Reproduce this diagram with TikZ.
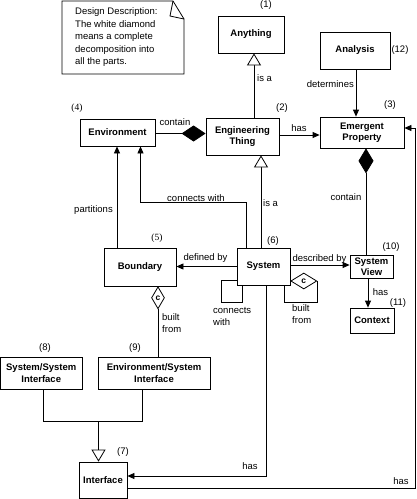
\documentclass[tikz,border=0pt]{standalone}
\usepackage{fontspec}
\setmainfont{Liberation Sans}
\newfontfamily\serifnum{Liberation Serif}
\usetikzlibrary{arrows.meta,shapes.geometric}
\begin{document}
\begin{tikzpicture}[x=1pt,y=-1pt,
  ln/.style={line width=0.8pt},
  box/.style={draw, ln, inner sep=0pt, align=center, font=\fontsize{9.5}{11.5}\selectfont\bfseries},
  lbl/.style={inner sep=0pt, font=\fontsize{9.5}{12}\selectfont},
  arr/.style={ln, -{Triangle[length=7pt,width=6pt]}},
  gen/.style={ln, -{Triangle[open,length=12pt,width=14pt,fill=white]}},
  cdia/.style={draw, ln, diamond, inner sep=0pt, fill=white, font=\fontsize{8.5}{9}\selectfont\bfseries},
]
\useasboundingbox (0,0) rectangle (417,499);

% note
\draw[ln] (62,1) -- (173,1) -- (184,19) -- (184,74) -- (62,74) -- cycle;
\draw[ln] (173,1) -- (170,16) -- (184,19);
\node[lbl, anchor=north west, align=left, font=\fontsize{9.5}{12.5}\selectfont] (note) at (75,7.5)
  {Design Description:\\The white diamond\\means a complete\\decomposition into\\all the parts.};

% nodes
\node[box, minimum width=66pt, minimum height=37pt] (any) at (251,34.5) {Anything};
\node[box, minimum width=70pt, minimum height=37pt] (ana) at (355,50.5) {Analysis};
\node[box, minimum width=73pt, minimum height=37pt] (et) at (242.5,136.5) {Engineering\\Thing};
\node[box, minimum width=84pt, minimum height=31pt] (ep) at (362,132.5) {Emergent\\Property};
\node[box, minimum width=75pt, minimum height=27pt] (env) at (117.5,132.5) {Environment};
\node[box, minimum width=72pt, minimum height=38pt] (bnd) at (140,267) {Boundary};
\node[box, minimum width=53pt, minimum height=37pt] (sys) at (263.5,266.5) {System};
\node[box, minimum width=43pt, minimum height=23pt] (sv) at (371.5,266.5) {System\\View};
\node[box, minimum width=44pt, minimum height=25pt] (ctx) at (372,320.5) {Context};
\node[box, minimum width=81.5pt, minimum height=32pt] (ssi) at (41.25,373) {System/System\\Interface};
\node[box, minimum width=112pt, minimum height=32pt] (esi) at (154,373) {Environment/System\\Interface};
\node[box, minimum width=48pt, minimum height=36pt] (itf) at (103,480) {Interface};

% numbers
\node[lbl] (n1) at (266,5.5) {(1)};
\node[lbl] (n2) at (282,108) {(2)};
\node[lbl] (n3) at (390,105) {(3)};
\node[lbl, font=\fontsize{9.5}{12}\selectfont\serifnum] (n4) at (77,108) {(4)};
\node[lbl, font=\fontsize{9.5}{12}\selectfont\serifnum] (n5) at (157,238) {(5)};
\node[lbl] (n6) at (273,241) {(6)};
\node[lbl] (n7) at (123,452) {(7)};
\node[lbl] (n8) at (45,348) {(8)};
\node[lbl] (n9) at (135,348) {(9)};
\node[lbl] (n10) at (391,247) {(10)};
\node[lbl] (n11) at (398,303) {(11)};
\node[lbl] (n12) at (400,50) {(12)};

% diamonds with c
\node[cdia, minimum width=13pt, minimum height=22pt, anchor=north] (bd) at ([xshift=18pt]bnd.south) {c};
\node[cdia, minimum width=26pt, minimum height=16pt, anchor=west] (sd) at ([yshift=-14.5pt]sys.east) {c};

% connectors
\draw[gen] ([xshift=11.5pt]et.north) coordinate (p1) -- (p1 |- any.south);
\draw[arr] ([xshift=1pt]ana.south) coordinate (p2) -- (p2 |- ep.north);
\draw[arr] ([yshift=1.5pt]et.east) coordinate (p3) -- (p3 -| ep.west);
\draw[ln, -{Diamond[length=24pt,width=16pt]}] ([yshift=-1pt]env.east) coordinate (p4) -- (p4 -| et.west);
\draw[ln, {Diamond[length=25pt,width=15pt]}-] ([xshift=4pt]ep.south) coordinate (p5) -- (p5 |- sv.north);
\draw[gen] ([xshift=-2.5pt]sys.north) coordinate (p6) -- (p6 |- et.south);
\draw[arr] ([xshift=-17.5pt]sys.north) -- ++(0,-45) -| ([xshift=23pt]env.south);
\draw[arr] ([xshift=-23pt]bnd.north) coordinate (p8) -- (p8 |- env.south);
\draw[arr] (sys.west) -- (sys.west -| bnd.east);
\draw[arr] ([yshift=1.5pt]sys.east) coordinate (p10) -- (p10 -| sv.west);
\draw[arr] ([xshift=-3.5pt]sv.south) coordinate (p11) -- (p11 |- ctx.north);
\draw[ln] ([yshift=5pt]sys.south west) -- ++(-15,0) -- ++(0,22) -- ++(21,0) -- ([xshift=6pt]sys.south west);
\draw[ln] (sd.east) -- ++(0,21) -| ([xshift=20.5pt]sys.south);
\draw[ln] (bd.south) -- (bd.south |- esi.north);
\draw[ln] ([xshift=2pt]ssi.south) -- ++(0,32) -| ([xshift=-12pt]esi.south);
\coordinate (j) at (98.5,421);
\draw[gen] (j) -- (j |- itf.north);
\draw[arr] ([xshift=2.5pt]sys.south) |- ([yshift=4pt]itf.east);
\coordinate (rc) at (415,128);
\draw[arr] ([yshift=-8pt]itf.east) -| (rc) -- (rc -| ep.east);

% labels
\node[lbl, anchor=west] (l1) at (257,78) {is a};
\node[lbl, anchor=east] (l2) at (354,84) {determines};
\node[lbl] (l3) at (299,128) {has};
\node[lbl] (l4) at (175,122.5) {contain};
\node[lbl] (l5) at (93.5,210) {partitions};
\node[lbl] (l6) at (196,198) {connects with};
\node[lbl, anchor=west] (l7) at (263,203) {is a};
\node[lbl] (l8) at (346,197) {contain};
\node[lbl] (l9) at (205.5,258) {defined by};
\node[lbl] (l10) at (319.5,259) {described by};
\node[lbl] (l11) at (380.5,292) {has};
\node[lbl, anchor=north west, align=left] (l12) at (213,307.5) {connects\\with};
\node[lbl, anchor=north west, align=left] (l13) at (292,304.5) {built\\from};
\node[lbl, anchor=north west, align=left] (l14) at (162,313.5) {built\\from};
\node[lbl] (l15) at (250,466) {has};
\node[lbl] (l16) at (401,481) {has};
\end{tikzpicture}
\end{document}
